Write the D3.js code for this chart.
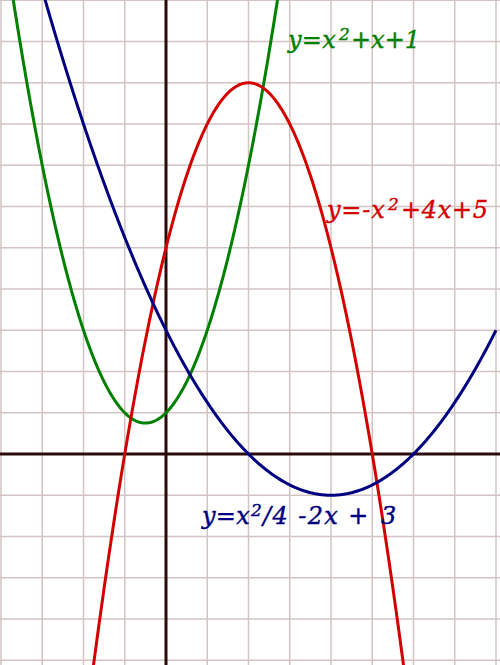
<!DOCTYPE html>
<html><head><meta charset="utf-8">
<script src="https://cdn.jsdelivr.net/npm/d3@7"></script>
<style>html,body{margin:0;padding:0;background:#fff}svg{display:block}</style>
</head><body>
<script>
// Data: y = a*x^2 + b*x + c
const curveNames = ["green", "red", "blue"];
const coefA = [1, -1, 0.25];
const coefB = [1, 4, -2];
const coefC = [1, 5, 3];
const curveColors = ["#008000", "#d40000", "#000080"];
// label pieces: [text, isSuperscript]
const labelParts = [
  [["y=x", 0], ["2", 1], ["+x+1", 0]],
  [["y=-x", 0], ["2", 1], ["+4x+5", 0]],
  [["y=x", 0], ["2", 1], ["/4 -2x +", 0], ["3", 0]]
];
const gridX = d3.range(-4, 9);
const gridY = d3.range(-5, 12);
const xDomain = [-4, 8];

// Layout (pixels)
const labelBaseline = [48, 218, 524];
const labelX = [[288, 339, 351], [327, 388, 401], [202, 251, 263, 381]];
const labelSpacing = [[0.3, 0, 0], [0.8, 0, 0.7], [0.3, 0, 1.4, 0]];

const W = 500, H = 665;
const ox = 166, oy = 454, unit = 41.25;
const x = d3.scaleLinear().domain([0, 1]).range([ox, ox + unit]);
const y = d3.scaleLinear().domain([0, 1]).range([oy, oy - unit]);

const svg = d3.select("body").append("svg").attr("width", W).attr("height", H);
svg.append("defs").append("clipPath").attr("id", "clip")
  .append("rect").attr("width", W).attr("height", H);

const g = svg.append("g").attr("clip-path", "url(#clip)");
g.selectAll("line.gx").data(gridX).join("line")
  .attr("x1", d => x(d)).attr("x2", d => x(d)).attr("y1", 0).attr("y2", H)
  .attr("stroke", "#d3c4c4").attr("stroke-width", 1.5);
g.selectAll("line.gy").data(gridY).join("line")
  .attr("y1", d => y(d)).attr("y2", d => y(d)).attr("x1", 0).attr("x2", W)
  .attr("stroke", "#d3c4c4").attr("stroke-width", 1.5);

// axes
g.append("line").attr("x1", 0).attr("x2", W).attr("y1", y(0)).attr("y2", y(0))
  .attr("stroke", "#2b0a0a").attr("stroke-width", 3);
g.append("line").attr("x1", x(0)).attr("x2", x(0)).attr("y1", 0).attr("y2", H)
  .attr("stroke", "#2b0a0a").attr("stroke-width", 3);

const line = d3.line().x(d => x(d[0])).y(d => y(d[1]));
curveNames.forEach((n, i) => {
  const pts = d3.range(xDomain[0], xDomain[1] + 0.001, 0.02).map(t => [t, coefA[i] * t * t + coefB[i] * t + coefC[i]]);
  g.append("path").attr("d", line(pts)).attr("fill", "none")
    .attr("stroke", curveColors[i]).attr("stroke-width", 3);
});

labelParts.forEach((parts, i) => {
  const t = svg.append("text").attr("xml:space", "preserve")
    .attr("font-family", "DejaVu Serif").attr("font-style", "italic")
    .attr("font-size", 24).attr("fill", curveColors[i])
    .attr("stroke", curveColors[i]).attr("stroke-width", 0.4);
  parts.forEach((p, j) => {
    t.append("tspan")
      .attr("x", labelX[i][j])
      .attr("y", labelBaseline[i] - (p[1] ? 8 : 0))
      .attr("font-size", p[1] ? 17 : 24)
      .attr("letter-spacing", labelSpacing[i][j])
      .text(p[0]);
  });
});
</script>
</body></html>
